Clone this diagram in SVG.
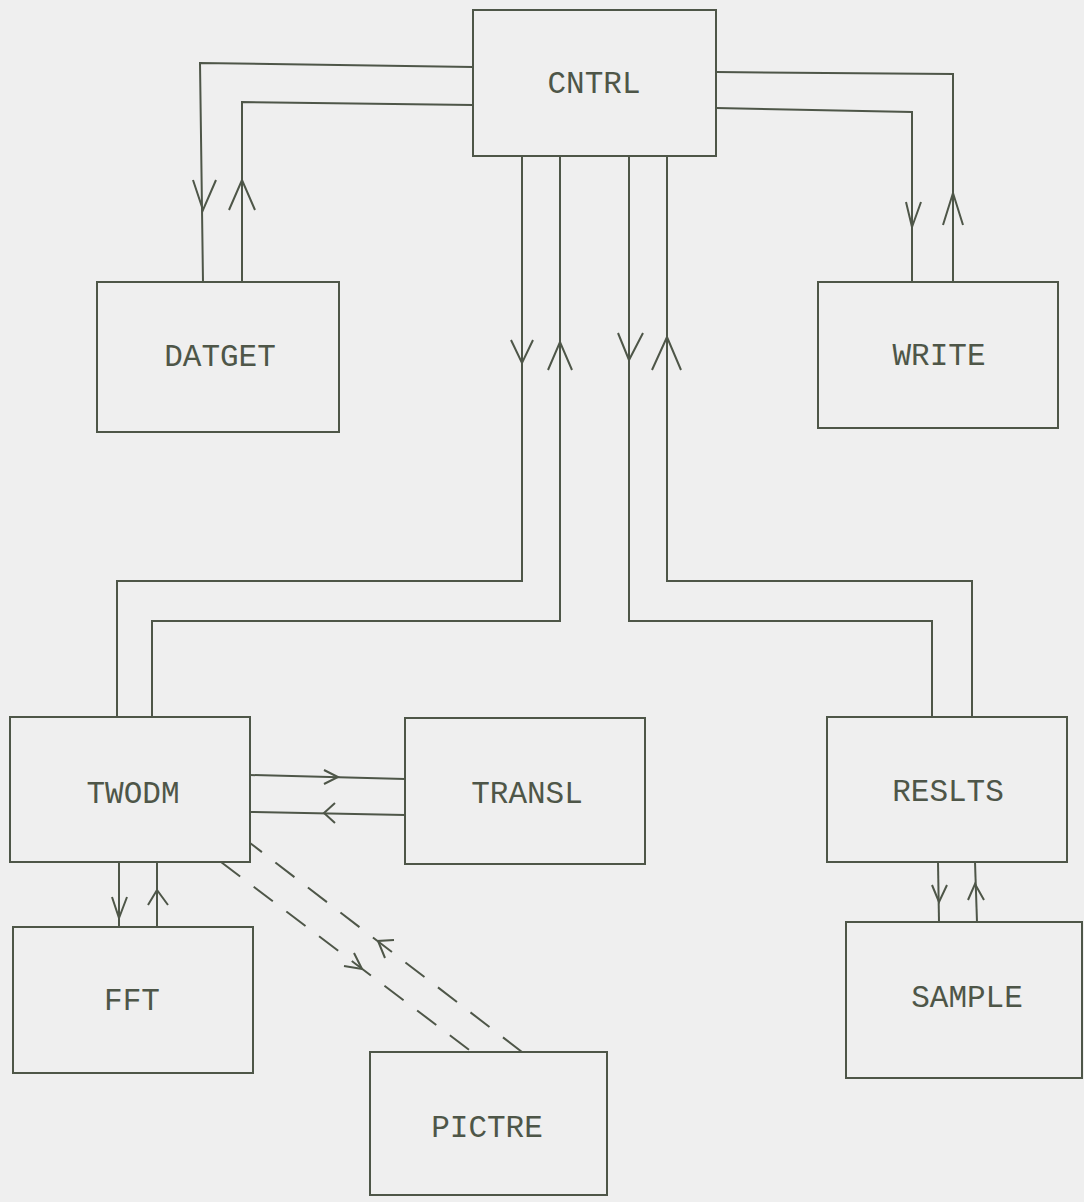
<svg xmlns="http://www.w3.org/2000/svg" width="1084" height="1202" viewBox="0 0 1084 1202">
<style>
.box{fill:none;stroke:#4e5648;stroke-width:2}
.lbl{font-family:"Liberation Mono","Courier New",monospace;font-size:31px;fill:#4e5648;text-anchor:middle}
.ln{fill:none;stroke:#4e5648;stroke-width:2;stroke-linejoin:miter}
.dash{fill:none;stroke:#4e5648;stroke-width:2;stroke-dasharray:24 17}
.hd{fill:none;stroke:#4e5648;stroke-width:2;stroke-linejoin:miter}
</style>
<rect x="0" y="0" width="1084" height="1202" fill="#efefef"/>
<g id="connectors">
  <path class="ln" d="M473,67 L200,63 L203,282"/>
  <path class="hd" d="M193,180 L203,210 L216,180"/>
  <path class="ln" d="M242,282 L242,102 L473,105"/>
  <path class="hd" d="M229,210 L242,180 L255,210"/>
  <path class="ln" d="M716,108 L912,112 L912,282"/>
  <path class="hd" d="M906,202 L912,227 L921,202"/>
  <path class="ln" d="M953,282 L953,74 L716,72"/>
  <path class="hd" d="M943,225 L953,193 L963,225"/>
  <path class="ln" d="M522,155 L522,581 L117,581 L117,717"/>
  <path class="hd" d="M511,340 L522,363 L533,340"/>
  <path class="ln" d="M152,717 L152,621 L560,621 L560,155"/>
  <path class="hd" d="M548,370 L560,342 L572,370"/>
  <path class="ln" d="M629,155 L629,621 L932,621 L932,717"/>
  <path class="hd" d="M618,333 L629,360 L643,333"/>
  <path class="ln" d="M972,717 L972,581 L667,581 L667,155"/>
  <path class="hd" d="M652,370 L667,337 L681,370"/>
  <path class="ln" d="M250,775 L405,779"/>
  <path class="hd" d="M324,770 L338,777 L324,784"/>
  <path class="ln" d="M405,815 L250,812"/>
  <path class="hd" d="M335,803 L324,813 L335,823"/>
  <path class="ln" d="M119,862 L119,927"/>
  <path class="hd" d="M112,897 L119,918 L127,897"/>
  <path class="ln" d="M157,927 L157,862"/>
  <path class="hd" d="M148,905 L157,890 L168,905"/>
  <path class="ln" d="M938,862 L939,922"/>
  <path class="hd" d="M932,885 L939,902 L947,885"/>
  <path class="ln" d="M977,922 L975,862"/>
  <path class="hd" d="M968,900 L975,884 L984,900"/>
  <path class="dash" d="M221,862 L472,1052"/>
  <path class="hd" d="M344,966 L362,969 L354,953"/>
  <path class="dash" d="M522,1052 L250,843"/>
  <path class="hd" d="M385,958 L378,941 L394,940"/>
</g>
<g id="CNTRL"><rect class="box" x="473" y="10" width="243" height="146"/><text class="lbl" x="594" y="93">CNTRL</text></g>
<g id="DATGET"><rect class="box" x="97" y="282" width="242" height="150"/><text class="lbl" x="220" y="366">DATGET</text></g>
<g id="WRITE"><rect class="box" x="818" y="282" width="240" height="146"/><text class="lbl" x="939" y="365">WRITE</text></g>
<g id="TWODM"><rect class="box" x="10" y="717" width="240" height="145"/><text class="lbl" x="133" y="803">TWODM</text></g>
<g id="TRANSL"><rect class="box" x="405" y="718" width="240" height="146"/><text class="lbl" x="527" y="803">TRANSL</text></g>
<g id="RESLTS"><rect class="box" x="827" y="717" width="240" height="145"/><text class="lbl" x="948" y="801">RESLTS</text></g>
<g id="FFT"><rect class="box" x="13" y="927" width="240" height="146"/><text class="lbl" x="132" y="1010">FFT</text></g>
<g id="SAMPLE"><rect class="box" x="846" y="922" width="236" height="156"/><text class="lbl" x="967" y="1007">SAMPLE</text></g>
<g id="PICTRE"><rect class="box" x="370" y="1052" width="237" height="143"/><text class="lbl" x="487" y="1137">PICTRE</text></g>
</svg>
